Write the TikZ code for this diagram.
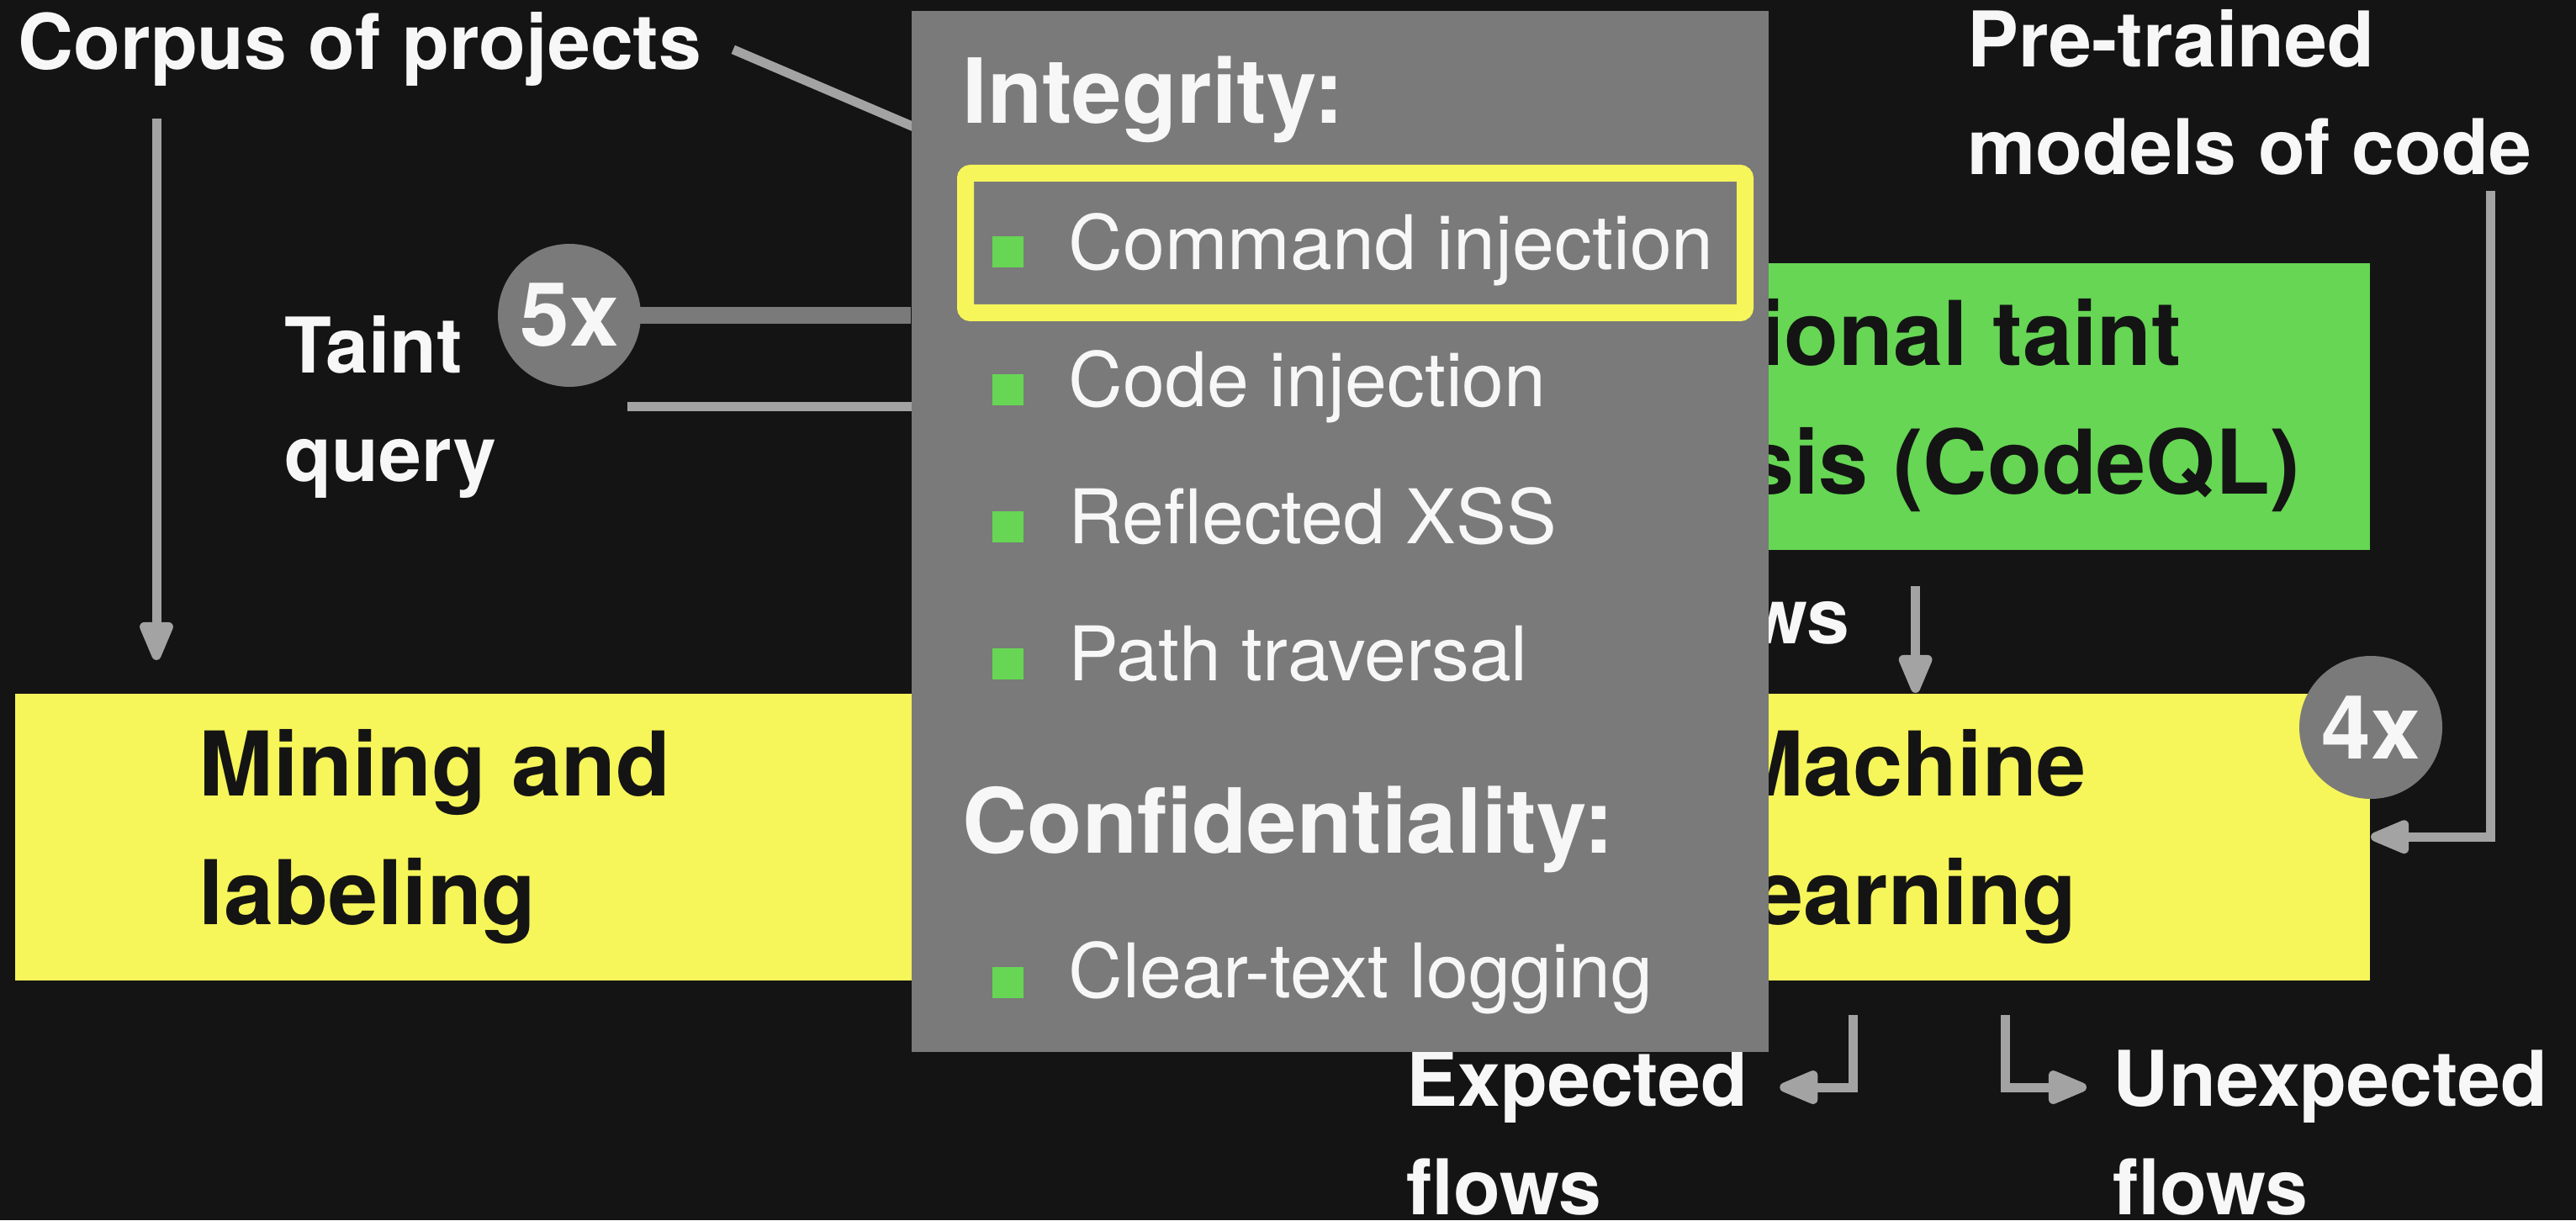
\documentclass[tikz,border=0pt]{standalone}
\usepackage{fontspec}
\setmainfont{TeX Gyre Heros}
\usepackage{tikz}
\usetikzlibrary{arrows.meta,positioning}
\definecolor{slidebg}{HTML}{141414}
\definecolor{panelgray}{HTML}{7A7A7A}
\definecolor{linegray}{HTML}{A3A3A3}
\definecolor{stageyellow}{HTML}{F6F55A}
\definecolor{stagegreen}{HTML}{66D654}
\definecolor{textwhite}{HTML}{F7F7F7}
\definecolor{textdark}{HTML}{141414}

\begin{document}
\begin{tikzpicture}[
    >={Triangle[length=0.55cm,width=0.42cm,round]},
    every node/.style={inner sep=0pt},
    note/.style={text=textwhite, font=\fontsize{26}{36.5}\selectfont\bfseries, align=left},
    stagebox/.style={rectangle, minimum height=3.41cm},
    stagetext/.style={text=textdark, font=\fontsize{30.2}{43.5}\selectfont\bfseries, align=left},
    flow/.style={->, linegray, line width=0.11cm},
    flowline/.style={linegray, line width=0.11cm},
    badge/.style={circle, fill=panelgray, minimum size=1.7cm, text=textwhite, font=\fontsize{30}{36}\selectfont\bfseries},
    heading/.style={text=textwhite, font=\fontsize{30.4}{36}\selectfont\bfseries},
    entry/.style={text=textwhite, font=\fontsize{25.5}{30}\selectfont},
    sqbullet/.style={rectangle, fill=stagegreen, minimum size=0.37cm}
]
    % === BACKGROUND ===
    \useasboundingbox (0,0) rectangle (30.63,14.51);
    \fill[slidebg] (0,0) rectangle (30.63,14.51);

    % === PIPELINE STAGES ===
    \node[stagebox, fill=stageyellow, minimum width=12.33cm, anchor=north west] (mining) at (0.17,6.27) {};
    \node[stagebox, fill=stagegreen, minimum width=12.33cm, anchor=north east] (taint) at (28.19,11.39) {};
    \node[stagebox, fill=stageyellow, minimum width=9.81cm, anchor=north east] (ml) at (28.19,6.27) {};
    \node[stagetext, anchor=west] (miningtxt) at ([xshift=2.19cm]mining.west) {Mining and\\labeling};
    \node[stagetext, anchor=west] (tainttxt) at ([xshift=2.19cm]taint.west) {Traditional taint\\analysis (CodeQL)};
    \node[stagetext, anchor=west] (mltxt) at ([xshift=2.19cm]ml.west) {Machine\\learning};

    % Inputs and outputs (base = last line)
    \node[note, anchor=base west] (corpus) at (0.21,13.68) {Corpus of projects};
    \node[note, anchor=base west] (query) at (3.38,8.79) {Taint\\query};
    \node[note, anchor=base west] (pretrained) at (23.39,12.43) {Pre-trained\\models of code};
    \node[note, anchor=base east] (flowlbl) at (22.00,6.86) {flows};
    \node[note, anchor=base west] (expected) at (16.72,0.07) {Expected\\flows};
    \node[note, anchor=base west] (unexpected) at (25.12,0.07) {Unexpected\\flows};

    % Connectors
    \coordinate (corpusdrop) at (1.86,13.10);
    \draw[flow, shorten >=0.39cm] (corpusdrop) -- (corpusdrop |- mining.north);
    \draw[flowline] ([xshift=0.37cm]corpus.east) -- ([yshift=1.19cm]taint.west);
    \draw[flow] ([xshift=1.55cm]query.east) -- (query.east -| taint.west);

    \coordinate (mldrop) at ([xshift=4.41cm]ml.north west);
    \draw[flow, shorten <=0.43cm] (mldrop |- taint.south) -- (mldrop);

    \coordinate (pretraindrop) at (29.61,12.24);
    \draw[flow] (pretraindrop) |- (ml.east);

    \coordinate (expdrop) at ([xshift=3.67cm]ml.south west);
    \coordinate (unexpdrop) at ([xshift=5.48cm]ml.south west);
    \draw[flow, shorten <=0.41cm] (expdrop) |- ([xshift=0.37cm,yshift=1.51cm]expected.base east);
    \draw[flow, shorten <=0.41cm] (unexpdrop) |- ([xshift=-0.31cm,yshift=1.51cm]unexpected.base west);

    \node[badge] (four) at ([yshift=-0.41cm]ml.north east) {4x};

    % === ZOOMED PANEL: QUERY LIST ===
    \node[rectangle, fill=panelgray, minimum width=10.19cm, minimum height=12.375cm, anchor=north west] (panel) at (10.83,14.385) {};

    \coordinate (fivec) at (6.77,10.76);
    \draw[panelgray, line width=0.2cm] (fivec) -- (fivec -| panel.west);
    \node[badge] (five) at (fivec) {5x};

    \node[heading, anchor=base west] (integrity) at (11.44,13.04) {Integrity:};
    \foreach \name/\txt [count=\i from 0] in {cmd/Command injection, code/Code injection, xss/Reflected XSS, path/Path traversal} {
        \node[entry, anchor=base west] (\name) at (12.70,{11.305-1.63*\i}) {\txt};
        \node[sqbullet] (\name-dot) at (11.985,{11.51-1.63*\i}) {};
    }
    \node[heading, anchor=base west] (confidentiality) at (11.44,4.37) {Confidentiality:};
    \node[entry, anchor=base west] (logging) at (12.70,2.65) {Clear-text logging};
    \node[sqbullet] (logging-dot) at (11.985,2.83) {};

    % Highlighted query
    \draw[stageyellow, line width=0.2cm, rounded corners=0.06cm] (11.48,12.45) rectangle (20.75,10.79);
\end{tikzpicture}
\end{document}
